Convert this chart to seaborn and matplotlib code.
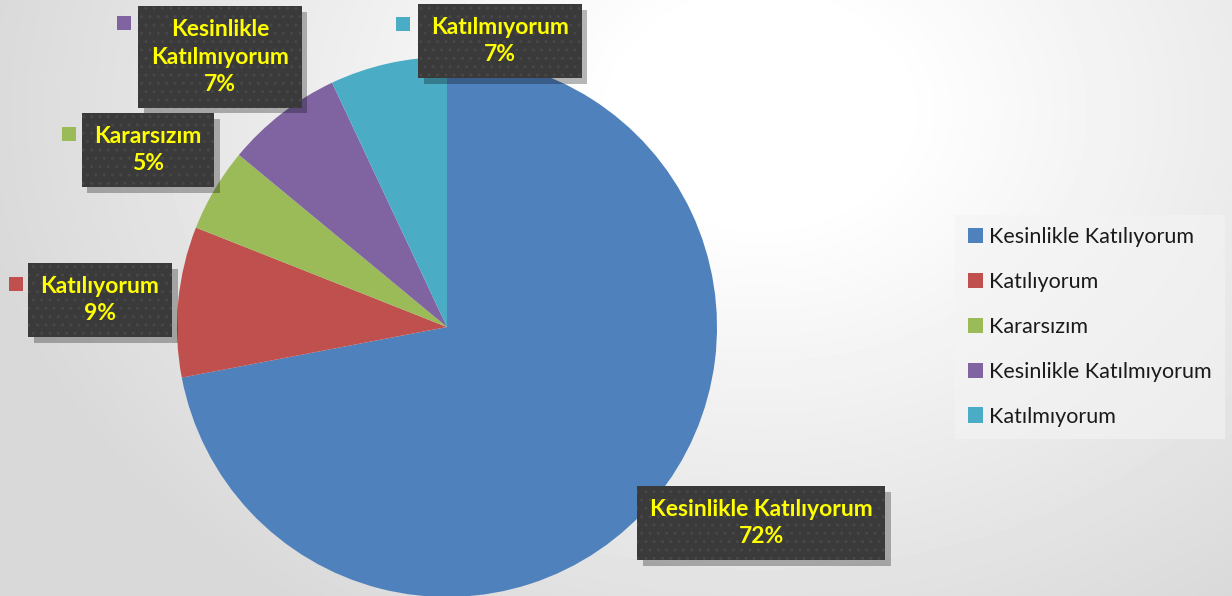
import numpy as np
import matplotlib
matplotlib.use("Agg")
import matplotlib.pyplot as plt
import matplotlib.patheffects as pe
import seaborn as sns

# data
categories = ["Kesinlikle Katılıyorum", "Katılıyorum", "Kararsızım",
              "Kesinlikle Katılmıyorum", "Katılmıyorum"]
values = [72, 9, 5, 7, 7]
label_texts = ["Kesinlikle Katılıyorum\n72%", "Katılıyorum\n9%", "Kararsızım\n5%",
               "Kesinlikle\nKatılmıyorum\n7%", "Katılmıyorum\n7%"]

colors = sns.color_palette(["#4F81BD", "#C0504D", "#9BBB59", "#8064A2", "#4BACC6"])

sns.set_theme(style="white")
plt.rcParams["font.family"] = ["Lato", "DejaVu Sans"]

W, H = 1232, 596
fig = plt.figure(figsize=(W / 100, H / 100), dpi=100)

# background radial gradient
bg = fig.add_axes([0, 0, 1, 1])
yy, xx = np.mgrid[0:H, 0:W]
d = np.hypot(xx - 760, (yy - 110) * 1.3)
shade = np.clip((d - 140) / 650, 0, 1)
gray = 1.0 - 0.15 * shade
bg.imshow(gray, cmap="gray", vmin=0, vmax=1, aspect="auto", extent=(0, W, H, 0))
bg.set_axis_off()

ax = fig.add_axes([0, 0, 1, 1])
ax.patch.set_alpha(0)

def py(y):
    return H - y

wedges, _ = ax.pie(values, colors=colors, startangle=90, counterclock=False,
                   center=(447, py(327)), radius=270,
                   wedgeprops=dict(linewidth=0))
ax.set_xlim(0, W)
ax.set_ylim(0, H)
ax.set_aspect("auto")
ax.set_axis_off()

# label layout (box centres and key squares, in pixels)
box_pos = [(761, 523), (100, 300), (148, 150), (220, 57), (500, 41)]
key_pos = [None, (16, 284), (69, 134), (124, 23), (403, 24)]

for i, (txt, (bx, by)) in enumerate(zip(label_texts, box_pos)):
    t = ax.text(bx, py(by), txt, ha="center", va="center", fontsize=16.5,
                fontweight="bold", color="#FFFF00", linespacing=1.4,
                bbox=dict(boxstyle="square,pad=0.55", fc="#3a3a3a", ec="none", lw=0))
    t.get_bbox_patch().set_path_effects([
        pe.SimplePatchShadow(offset=(4, -4), shadow_rgbFace="#000000", alpha=0.28),
        pe.PathPatchEffect(facecolor="#3a3a3a", edgecolor="#474747", hatch="..", lw=0)])
    if key_pos[i] is not None:
        kx, ky = key_pos[i]
        ax.scatter([kx], [py(ky)], marker="s", s=115, color=colors[i], linewidths=0)

leg = ax.legend(wedges, categories, loc="center left",
                bbox_to_anchor=(955 / W, py(327) / H), frameon=True,
                fontsize=15.5, handlelength=0.7, handleheight=0.7,
                handletextpad=0.3, labelspacing=1.15, borderpad=0.6,
                borderaxespad=0)
leg.get_frame().set_facecolor("#f4f4f4")
leg.get_frame().set_alpha(0.6)
leg.get_frame().set_edgecolor("none")
leg.get_frame().set_boxstyle("square", pad=0)
for t in leg.get_texts():
    t.set_color("#1a1a1a")

fig.savefig("out.png", dpi=100)
